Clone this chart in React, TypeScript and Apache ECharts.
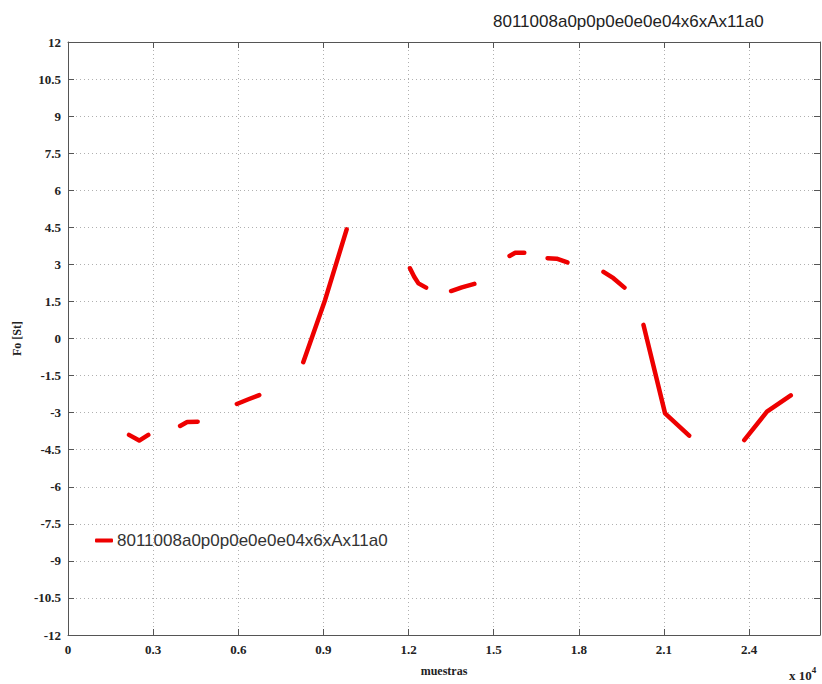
import React, { useEffect, useRef } from "react";
import * as echarts from "echarts";

// x values in units of 10^4 samples; null separates the line segments
const sampleX: (number | null)[] = [
  0.215, 0.251, 0.283, null,
  0.395, 0.42, 0.457, null,
  0.595, 0.636, 0.674, null,
  0.829, 0.906, 0.982, null,
  1.205, 1.22, 1.235, 1.262, null,
  1.35, 1.388, 1.432, null,
  1.556, 1.576, 1.608, null,
  1.69, 1.722, 1.76, null,
  1.887, 1.922, 1.961, null,
  2.028, 2.104, 2.189, null,
  2.383, 2.463, 2.547,
];
const foValues: (number | null)[] = [
  -3.9, -4.13, -3.9, null,
  -3.54, -3.38, -3.37, null,
  -2.65, -2.46, -2.29, null,
  -0.96, 1.56, 4.42, null,
  2.84, 2.5, 2.23, 2.06, null,
  1.92, 2.07, 2.21, null,
  3.34, 3.47, 3.47, null,
  3.25, 3.23, 3.08, null,
  2.7, 2.44, 2.06, null,
  0.55, -3.03, -3.93, null,
  -4.11, -2.96, -2.3,
];
const seriesName = "8011008a0p0p0e0e0e04x6xAx11a0";
const titleText = "8011008a0p0p0e0e0e04x6xAx11a0";
const xName = "muestras";
const yName = "Fo [St]";

export default function App() {
  const ref = useRef<HTMLDivElement>(null);
  useEffect(() => {
    document.body.style.margin = "0";
    const chart = echarts.init(ref.current!, undefined, { renderer: "svg" });
    const data = sampleX.map((x, i) =>
      x === null || foValues[i] === null ? [null, null] : [x, foValues[i]]
    );
    const serif = "Liberation Serif";
    const frameLine = { show: true, onZero: false, lineStyle: { color: "#555", width: 1 } };
    const tick = { show: true, inside: true, length: 6, lineStyle: { color: "#555" } };
    const gridLine = { show: true, lineStyle: { color: "#b0b0b0", type: [1, 3] as any, width: 1 } };
    chart.setOption({
      animation: false,
      backgroundColor: "#fff",
      title: {
        text: titleText,
        left: 488,
        top: 8,
        textStyle: { fontFamily: "Liberation Sans", fontSize: 17, fontWeight: "normal", color: "#222" },
      },
      legend: {
        left: 90,
        top: 527,
        itemWidth: 18,
        itemHeight: 4,
        itemGap: 4,
        icon: "roundRect",
        textStyle: { fontFamily: "Liberation Sans", fontSize: 17, color: "#333", padding: [0, 0, 0, -1] },
        data: [{ name: seriesName, icon: "roundRect" }],
      },
      grid: { left: 68, right: 2, top: 42, bottom: 49, containLabel: false },
      xAxis: [
        {
          type: "value",
          min: 0,
          max: 2.65,
          interval: 0.3,
          name: xName,
          nameLocation: "middle",
          nameGap: 30,
          nameTextStyle: { fontFamily: serif, fontWeight: "bold", fontSize: 12, color: "#222" },
          axisLine: frameLine,
          axisTick: tick,
          axisLabel: {
            showMaxLabel: false,
            margin: 8,
            fontFamily: serif,
            fontWeight: "bold",
            fontSize: 13,
            color: "#222",
          },
          splitLine: gridLine,
        },
        {
          type: "value",
          position: "top",
          min: 0,
          max: 2.65,
          interval: 0.3,
          axisLine: frameLine,
          axisTick: tick,
          axisLabel: { show: false },
          splitLine: { show: false },
        },
      ],
      yAxis: [
        {
          type: "value",
          min: -12,
          max: 12,
          interval: 1.5,
          name: yName,
          nameLocation: "middle",
          nameGap: 38,
          nameTextStyle: { fontFamily: serif, fontWeight: "bold", fontSize: 12, color: "#222" },
          axisLine: frameLine,
          axisTick: tick,
          axisLabel: { margin: 7, fontFamily: serif, fontWeight: "bold", fontSize: 13, color: "#222" },
          splitLine: gridLine,
        },
        {
          type: "value",
          position: "right",
          min: -12,
          max: 12,
          interval: 1.5,
          axisLine: frameLine,
          axisTick: tick,
          axisLabel: { show: false },
          splitLine: { show: false },
        },
      ],
      graphic: [
        {
          type: "text",
          left: 789,
          top: 665,
          style: {
            text: "{a|x 10}{b|4}",
            rich: {
              a: { fontFamily: serif, fontWeight: "bold", fontSize: 13, fill: "#222", verticalAlign: "bottom" },
              b: { fontFamily: serif, fontWeight: "bold", fontSize: 9, fill: "#222", verticalAlign: "top", padding: [0, 0, 8, 0] },
            },
          },
        },
      ],
      series: [
        {
          name: seriesName,
          type: "line",
          data,
          connectNulls: false,
          showSymbol: false,
          symbol: "none",
          color: "#ee0000",
          lineStyle: { color: "#ee0000", width: 4.5, cap: "round", join: "round" },
        },
      ],
    });
    return () => chart.dispose();
  }, []);
  return <div ref={ref} style={{ width: 822, height: 684 }} />;
}
